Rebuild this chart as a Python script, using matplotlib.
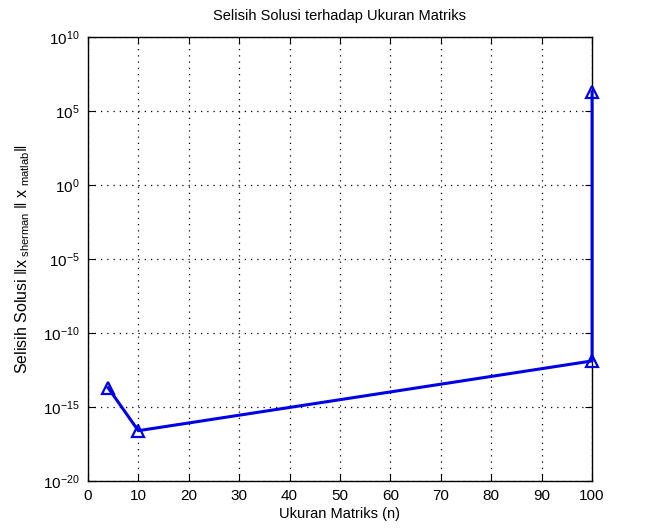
import numpy as np
from matplotlib import pyplot as plt

plt.rcParams['font.family'] = ['Liberation Sans', 'DejaVu Sans']
plt.rcParams['mathtext.fontset'] = 'custom'
plt.rcParams['mathtext.rm'] = 'Liberation Sans'
plt.rcParams['mathtext.it'] = 'Liberation Sans'
plt.rcParams['axes.unicode_minus'] = False

# ukuran matriks dan selisih solusi
n = [4, 10, 100, 100]
selisih = [2.0e-14, 2.5e-17, 1.3e-12, 2.0e6]

fig = plt.figure(figsize=(6.66, 5.3), dpi=100)
ax = fig.add_axes([0.132, 0.0925, 0.757, 0.8375])

ax.semilogy(n, selisih, color='#0000e6', linewidth=2.2, marker='^',
            markersize=8, markerfacecolor='none', markeredgewidth=1.6,
            clip_on=False, zorder=3)

ax.set_xlim(0, 100)
ax.set_ylim(1e-20, 1e10)
ax.set_xticks(np.arange(0, 101, 10))
ax.set_yticks([1e-20, 1e-15, 1e-10, 1e-5, 1e0, 1e5, 1e10])
ax.minorticks_off()
ax.grid(True, linestyle=(0, (1, 4)), color='black', linewidth=0.9)
ax.tick_params(direction='in', length=5, labelsize=11, pad=6, top=True, right=True)
for s in ax.spines.values():
    s.set_linewidth(1.0)

ax.set_title('Selisih Solusi terhadap Ukuran Matriks', fontsize=10.5, pad=12)
ax.set_xlabel('Ukuran Matriks (n)', fontsize=10.5, labelpad=3)
ax.set_ylabel(r'Selisih Solusi $\Vert \mathrm{x}_{\ \mathrm{sherman}}\ \Vert\ \mathrm{x}_{\ \mathrm{matlab}}\Vert$',
              fontsize=11.5, labelpad=8)

fig.savefig('out.png', dpi=100)
